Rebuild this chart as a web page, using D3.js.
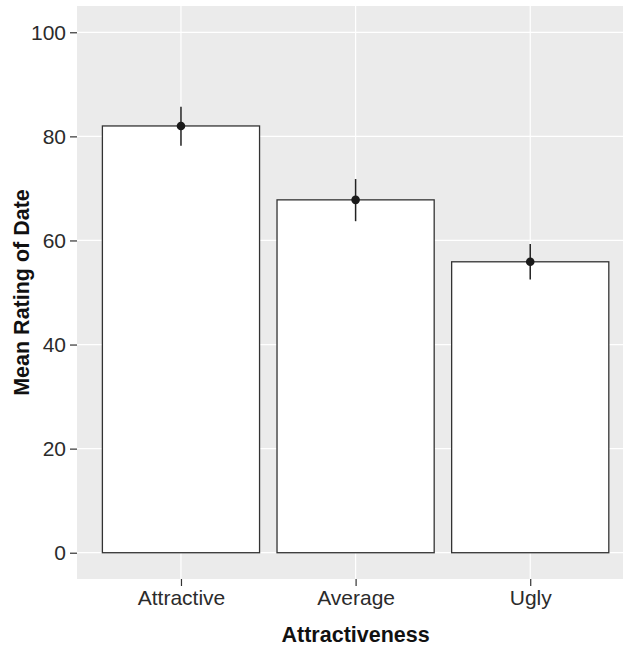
<!DOCTYPE html>
<html>
<head>
<meta charset="utf-8">
<script src="https://cdn.jsdelivr.net/npm/d3@7"></script>
<style>
  html, body { margin: 0; padding: 0; background: #fff; }
  svg { display: block; }
</style>
</head>
<body>
<script>
const categories = ["Attractive", "Average", "Ugly"];
const means = [82.0, 67.8, 55.9];
const lower = [78.2, 63.7, 52.5];
const upper = [85.7, 71.8, 59.3];
const yTicks = [0, 20, 40, 60, 80, 100];
const xTitle = "Attractiveness";
const yTitle = "Mean Rating of Date";

const W = 623, H = 646;
const panel = { left: 77, top: 6, right: 623, bottom: 579 };

const svg = d3.select("body").append("svg").attr("width", W).attr("height", H);

const y = d3.scaleLinear().domain([-5.05, 105.05]).range([panel.bottom, panel.top]);
const x = d3.scaleLinear().domain([-0.6, categories.length - 1 + 0.6]).range([76.2, 635.0]);
const bw = 0.9 * (x(1) - x(0));

svg.append("defs").append("clipPath").attr("id", "clip")
  .append("rect").attr("x", panel.left).attr("y", panel.top)
  .attr("width", panel.right - panel.left).attr("height", panel.bottom - panel.top);

svg.append("rect")
  .attr("x", panel.left).attr("y", panel.top)
  .attr("width", panel.right - panel.left).attr("height", panel.bottom - panel.top)
  .attr("fill", "#EBEBEB");

const g = svg.append("g").attr("clip-path", "url(#clip)");

// grid
g.selectAll(".hgrid").data(yTicks).join("line")
  .attr("x1", panel.left).attr("x2", panel.right)
  .attr("y1", d => y(d)).attr("y2", d => y(d))
  .attr("stroke", "#fff").attr("stroke-width", 1.2);
g.selectAll(".vgrid").data(categories).join("line")
  .attr("x1", (d, i) => x(i)).attr("x2", (d, i) => x(i))
  .attr("y1", panel.top).attr("y2", panel.bottom)
  .attr("stroke", "#fff").attr("stroke-width", 1.2);

// bars
g.selectAll(".bar").data(means).join("rect")
  .attr("x", (d, i) => x(i) - bw / 2)
  .attr("width", bw)
  .attr("y", d => y(d))
  .attr("height", d => y(0) - y(d))
  .attr("fill", "#fff")
  .attr("stroke", "#333").attr("stroke-width", 1.3);

// error bars
g.selectAll(".err").data(means).join("line")
  .attr("x1", (d, i) => x(i)).attr("x2", (d, i) => x(i))
  .attr("y1", (d, i) => y(upper[i])).attr("y2", (d, i) => y(lower[i]))
  .attr("stroke", "#222").attr("stroke-width", 1.5);
g.selectAll(".pt").data(means).join("circle")
  .attr("cx", (d, i) => x(i)).attr("cy", d => y(d))
  .attr("r", 4.3).attr("fill", "#1a1a1a");

const font = "'Liberation Sans', Arial, Helvetica, sans-serif";

// y axis
const yAxis = svg.append("g").attr("transform", `translate(${panel.left},0)`)
  .call(d3.axisLeft(y).tickValues(yTicks).tickSize(7).tickPadding(4).tickFormat(d3.format("d")));
yAxis.select(".domain").remove();
yAxis.selectAll(".tick line").attr("stroke", "#333").attr("stroke-width", 1.2);
yAxis.selectAll(".tick text").attr("fill", "#2b2b2b")
  .style("font-family", font).style("font-size", "21px");

// x axis
const xAxis = svg.append("g").attr("transform", `translate(0,${panel.bottom})`)
  .call(d3.axisBottom(x).tickValues(d3.range(categories.length)).tickSize(7).tickPadding(4)
    .tickFormat(i => categories[i]));
xAxis.select(".domain").remove();
xAxis.selectAll(".tick line").attr("stroke", "#333").attr("stroke-width", 1.2);
xAxis.selectAll(".tick text").attr("fill", "#2b2b2b")
  .style("font-family", font).style("font-size", "21px");

// titles
svg.append("text")
  .attr("x", x(1)).attr("y", 642)
  .attr("text-anchor", "middle")
  .style("font-family", font)
  .style("font-size", "21.5px").style("font-weight", "bold")
  .attr("fill", "#111")
  .text(xTitle);

svg.append("text")
  .attr("transform", `translate(29,${(panel.top + panel.bottom) / 2}) rotate(-90)`)
  .attr("text-anchor", "middle")
  .style("font-family", font)
  .style("font-size", "21.5px").style("font-weight", "bold")
  .attr("fill", "#111")
  .text(yTitle);
</script>
</body>
</html>
